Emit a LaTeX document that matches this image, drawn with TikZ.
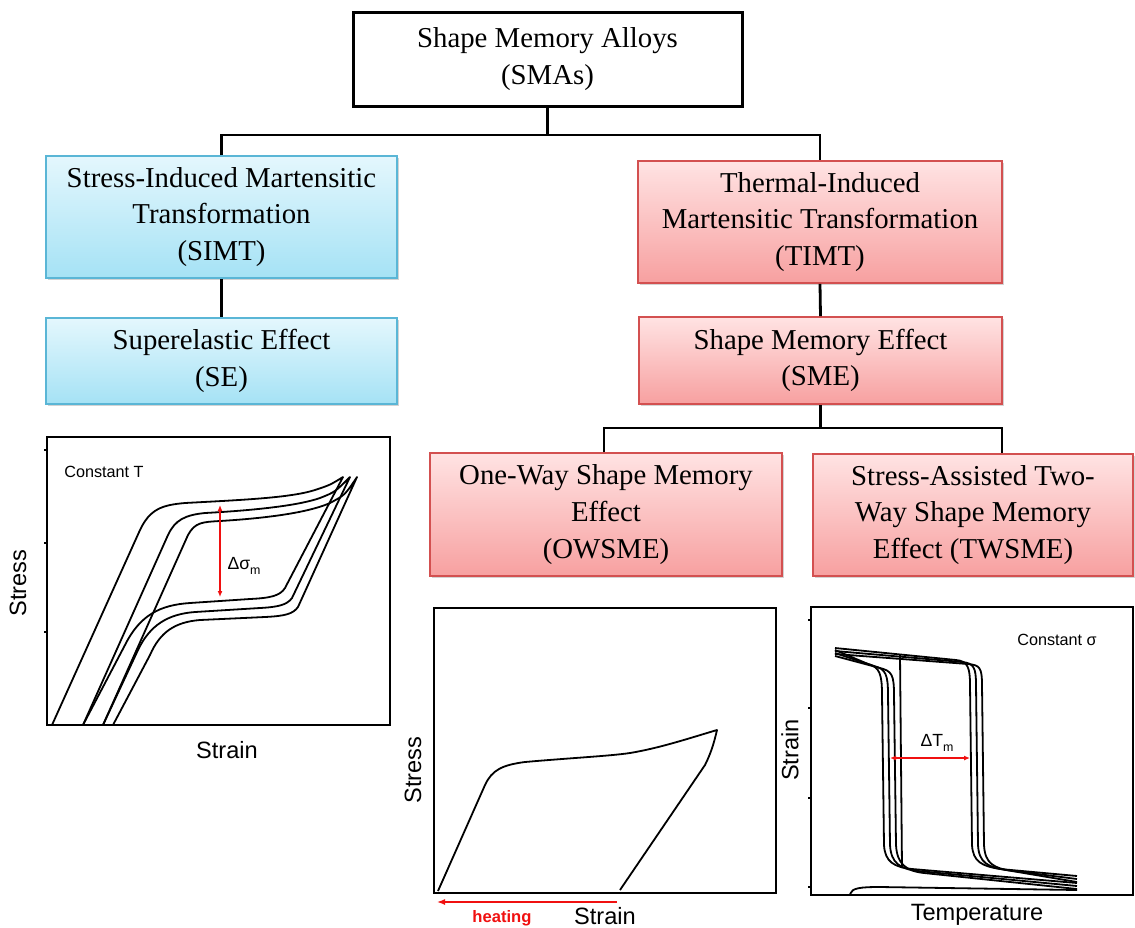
\documentclass[tikz,border=0pt]{standalone}
\usepackage{fontspec}
\setmainfont{Liberation Serif}
\newfontfamily\plotfont{Liberation Sans}
\usetikzlibrary{arrows.meta,shadows}
\definecolor{bluetop}{HTML}{E4F7FD}
\definecolor{bluebot}{HTML}{A5E2F5}
\definecolor{blueborder}{HTML}{5AB6D6}
\definecolor{redtop}{HTML}{FFE3E3}
\definecolor{redbot}{HTML}{F7A0A0}
\definecolor{redborder}{HTML}{D35050}
\definecolor{arrowred}{HTML}{F01010}
\begin{document}
\begin{tikzpicture}[x=0.5pt,y=-0.5pt,
  box/.style={align=center, inner sep=0pt, font=\fontsize{14.4}{18.3}\selectfont},
  topbox/.style={box, draw=black, line width=1.5pt, fill=white},
  bluebox/.style={box, draw=blueborder, line width=0.8pt, top color=bluetop, bottom color=bluebot,
    drop shadow={shadow xshift=0.8pt, shadow yshift=-1.2pt, opacity=0.35}},
  redbox/.style={box, draw=redborder, line width=0.8pt, top color=redtop, bottom color=redbot,
    drop shadow={shadow xshift=0.8pt, shadow yshift=-1.2pt, opacity=0.35}},
  conn/.style={line width=1.4pt, black},
  frame/.style={line width=1.4pt, black},
  curve/.style={line width=0.9pt, black, line join=round},
  axlabel/.style={font=\plotfont\fontsize{11.8}{13}\selectfont},
  small/.style={font=\plotfont\fontsize{8.1}{9}\selectfont},
  redarrow/.style={draw=arrowred, line width=0.7pt}
]
\useasboundingbox (0,0) rectangle (1135,927);

% ---------- boxes ----------
\node[topbox, minimum width=194.5pt, minimum height=47pt] (sma) at (547.5,59) {Shape Memory Alloys\\(SMAs)};
\node[bluebox, minimum width=175.5pt, minimum height=61pt] (simt) at (221.5,217) {Stress-Induced Martensitic\\Transformation\\(SIMT)};
\node[bluebox, minimum width=175.5pt, minimum height=43pt] (se) at (221.5,361) {Superelastic Effect\\(SE)};
\node[redbox, minimum width=182pt, minimum height=61pt] (timt) at (820,222) {Thermal-Induced\\Martensitic Transformation\\(TIMT)};
\node[redbox, minimum width=181.5pt, minimum height=43.5pt] (sme) at (820.5,360.5) {Shape Memory Effect\\(SME)};
\node[redbox, minimum width=176pt, minimum height=61.5pt] (ow) at (606,514.5) {One-Way Shape Memory\\Effect\\(OWSME)};
\node[redbox, minimum width=160pt, minimum height=61pt] (tw) at (973,515) {Stress-Assisted Two-\\Way Shape Memory\\Effect (TWSME)};

% ---------- connectors ----------
\coordinate (j1) at (547.5,135);
\draw[conn] (sma.south) -- (j1);
\draw[conn] (simt.north) |- (j1) -| (timt.north);
\draw[conn] (simt.south) -- (se.north);
\draw[conn] (timt.south) -- (sme.north);
\coordinate (jl) at (604,428);
\coordinate (jr) at (1002,428);
\draw[conn] (sme.south) -- (sme.south |- jl);
\draw[conn] (jl |- ow.north) -- (jl) -- (jr) -- (jr |- tw.north);

% ---------- plot 1: superelastic ----------
\draw[frame] (47,437) rectangle (390,725);
\foreach \t in {450,543,632} \draw[line width=0.6pt] (44,\t) -- (47,\t);
\node[small] at (104,472) {Constant T};
\node[axlabel, rotate=90] at (18,583) {Stress};
\node[axlabel] at (227,750) {Strain};
% loop 0
\draw[curve] (52,725) -- (140,530) .. controls (150,509) and (162,505) .. (185,503)
  .. controls (240,500) and (290,498) .. (315,490) .. controls (330,485) .. (343,477)
  -- (285,588) .. controls (280,596) and (270,598) .. (250,599) -- (190,603)
  .. controls (160,605) and (140,615) .. (125,645) -- (83,725);
% loop 1
\draw[curve] (83,725) -- (168,535) .. controls (175,520) and (185,515) .. (205,513)
  .. controls (260,510) and (300,505) .. (320,498) .. controls (335,492) .. (350,477)
  -- (292,598) .. controls (287,605) and (278,607) .. (260,608) -- (195,612)
  .. controls (168,614) and (150,625) .. (138,650) -- (103,725);
% loop 2
\draw[curve] (103,725) -- (188,535) .. controls (195,522) and (203,522) .. (220,521)
  .. controls (270,518) and (310,512) .. (330,503) .. controls (345,495) .. (357,477)
  -- (298,607) .. controls (293,614) and (285,616) .. (265,617) -- (200,620)
  .. controls (175,622) and (160,632) .. (150,655) -- (113,725);
\draw[redarrow, {Latex[length=3pt,width=2.5pt]}-{Latex[length=3pt,width=2.5pt]}] (220,505) -- (220,597);
\node[font=\plotfont\fontsize{8.8}{10}\selectfont] at (244,566) {Δσ\raisebox{-0.5ex}{\fontsize{6.2}{6}\selectfont m}};

% ---------- plot 2: one-way ----------
\draw[frame] (434,608) rectangle (776,893);
\node[axlabel, rotate=90] at (413,770) {Stress};
\node[axlabel] at (605,916) {Strain};
\draw[curve] (438,891) -- (485,785) .. controls (492,770) and (502,765) .. (525,762)
  .. controls (570,758) and (610,756) .. (630,753) .. controls (660,748) and (690,738) .. (717,730)
  .. controls (714,743) and (711,753) .. (705,765) -- (620,890);
\draw[redarrow, -{Latex[length=4pt,width=3pt]}] (617,902) -- (437,902);
\node[font=\plotfont\bfseries\fontsize{8.3}{10}\selectfont, text=arrowred] at (502,918) {heating};

% ---------- plot 3: two-way ----------
\draw[frame] (811,607) rectangle (1133,895);
\foreach \t in {620,708,798,887} \draw[line width=0.6pt] (808,\t) -- (811,\t);
\node[small] at (1057,640) {Constant σ};
\node[axlabel, rotate=90] at (790,750) {Strain};
\node[axlabel] at (977,915) {Temperature};
\foreach \k/\R/\L in {0/970/882,1/976/888,2/982/894}{
  \draw[curve] (835,648+3*\k) -- (\R-14,660+2*\k) .. controls (\R-2,661+2*\k) and (\R,668) .. (\R,685)
    -- (\R+2,845) .. controls (\R+3,862+\k) and (\R+12,866+\k) .. (\R+30,869+\k) -- (1077,876+3*\k);
  \draw[curve] (835,650+3*\k) -- (\L-14,664+2*\k) .. controls (\L-2,667+2*\k) and (\L,675) .. (\L,695)
    -- (\L+2,845) .. controls (\L+3,862+\k) and (\L+12,867+2*\k) .. (\L+30,869+2*\k) -- (1077,883+3*\k);
}
\draw[curve] (900,655) -- (902,868);
\draw[curve] (850,894) .. controls (852,888) and (860,887) .. (880,887) -- (1077,890);
\draw[redarrow, {Latex[length=3pt,width=2.5pt]}-{Latex[length=3pt,width=2.5pt]}] (890,758) -- (970,758);
\node[font=\plotfont\fontsize{8.8}{10}\selectfont] at (937,743) {ΔT\raisebox{-0.5ex}{\fontsize{6.2}{6}\selectfont m}};
\end{tikzpicture}
\end{document}
